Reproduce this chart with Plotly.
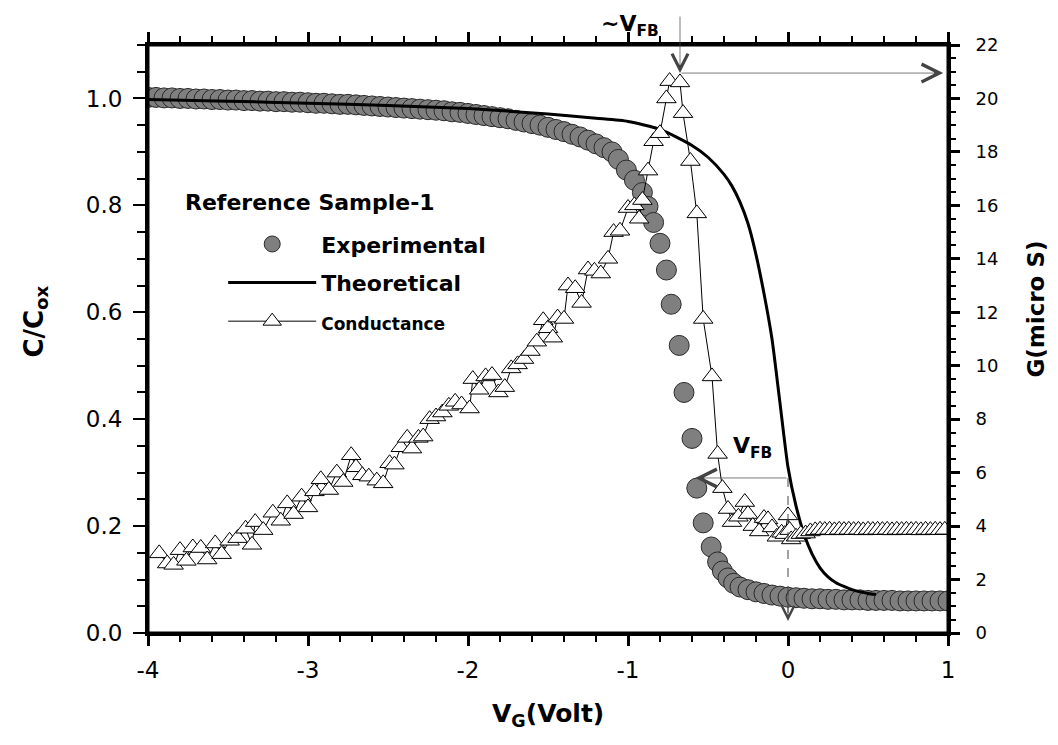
import plotly.graph_objects as go

# ---------------- data ----------------
# Experimental C/Cox vs gate voltage
exp_v = [-4.00, -3.95, -3.90, -3.85, -3.80, -3.75, -3.70, -3.65, -3.60, -3.55,
         -3.50, -3.45, -3.40, -3.35, -3.30, -3.25, -3.20, -3.15, -3.10, -3.05,
         -3.00, -2.95, -2.90, -2.85, -2.80, -2.75, -2.70, -2.65, -2.60, -2.55,
         -2.50, -2.45, -2.40, -2.35, -2.30, -2.25, -2.20, -2.15, -2.10, -2.05,
         -2.00, -1.95, -1.90, -1.85, -1.80, -1.75, -1.70, -1.65, -1.60, -1.55,
         -1.50, -1.45, -1.40, -1.35, -1.30, -1.25, -1.20, -1.15,
         -1.10, -1.06, -1.01, -0.96, -0.91, -0.875, -0.84, -0.80, -0.76, -0.73,
         -0.68, -0.65, -0.60, -0.57, -0.53, -0.48, -0.44, -0.41, -0.375, -0.34,
         -0.30, -0.25, -0.20, -0.15, -0.10, -0.05, 0.00, 0.05, 0.10, 0.15,
         0.20, 0.25, 0.30, 0.35, 0.40, 0.45, 0.50, 0.55, 0.60, 0.65,
         0.70, 0.75, 0.80, 0.85, 0.90, 0.95, 1.00]
exp_c = [1.002, 1.002, 1.001, 1.001, 1.000, 1.000, 0.999, 0.999, 0.998, 0.998,
         0.997, 0.997, 0.996, 0.996, 0.995, 0.995, 0.994, 0.994, 0.993, 0.993,
         0.992, 0.991, 0.991, 0.990, 0.989, 0.989, 0.988, 0.987, 0.986, 0.985,
         0.984, 0.983, 0.982, 0.981, 0.980, 0.979, 0.978, 0.977, 0.975, 0.974,
         0.972, 0.970, 0.968, 0.966, 0.964, 0.962, 0.959, 0.956, 0.953, 0.950,
         0.946, 0.942, 0.938, 0.933, 0.928, 0.922, 0.915, 0.908,
         0.900, 0.886, 0.866, 0.847, 0.824, 0.798, 0.768, 0.729, 0.679, 0.615,
         0.538, 0.450, 0.364, 0.271, 0.206, 0.161, 0.133, 0.116, 0.103, 0.093,
         0.086, 0.081, 0.077, 0.074, 0.071, 0.069, 0.067, 0.066, 0.065, 0.064,
         0.064, 0.063, 0.063, 0.062, 0.062, 0.062, 0.061, 0.061, 0.061, 0.061,
         0.060, 0.060, 0.060, 0.060, 0.060, 0.060, 0.060]

# Theoretical C/Cox curve
theo_v = [-4.0, -3.5, -3.0, -2.5, -2.0, -1.5, -1.2, -1.0, -0.8, -0.6,
          -0.5, -0.4, -0.35, -0.3, -0.25, -0.2, -0.15, -0.1, -0.05, 0.0,
          0.05, 0.1, 0.15, 0.2, 0.25, 0.3, 0.35, 0.4, 0.45, 0.5, 0.55]
theo_c = [0.998, 0.995, 0.991, 0.987, 0.981, 0.971, 0.963, 0.957, 0.942, 0.912,
          0.890, 0.858, 0.836, 0.806, 0.766, 0.708, 0.635, 0.550, 0.430, 0.310,
          0.238, 0.185, 0.148, 0.122, 0.105, 0.094, 0.087, 0.081, 0.077, 0.074, 0.072]

# Conductance G (micro S) vs gate voltage
cond_v = [-3.93, -3.88, -3.84, -3.80, -3.76, -3.72, -3.67, -3.63, -3.58, -3.54,
          -3.49, -3.44, -3.39, -3.35, -3.33, -3.28, -3.22, -3.17, -3.13, -3.09,
          -3.04, -3.00, -2.96, -2.92, -2.87, -2.82, -2.78, -2.73, -2.70, -2.66,
          -2.62, -2.57, -2.53, -2.49, -2.46, -2.42, -2.38, -2.35, -2.31, -2.28,
          -2.24, -2.20, -2.16, -2.12, -2.08, -2.04, -1.99, -1.97, -1.93, -1.89,
          -1.85, -1.81, -1.77, -1.73, -1.69, -1.65, -1.61, -1.57, -1.53, -1.50,
          -1.47, -1.44, -1.40, -1.375, -1.33, -1.29, -1.25, -1.21, -1.17, -1.125,
          -1.09, -1.05, -1.00, -0.96, -0.93, -0.91, -0.875, -0.84, -0.80, -0.76,
          -0.74, -0.675, -0.656, -0.61, -0.57, -0.53, -0.475, -0.44, -0.41, -0.375,
          -0.35, -0.31, -0.27, -0.25, -0.22, -0.18, -0.15, -0.125, -0.10, -0.07,
          -0.04, -0.02, 0.00, 0.01, 0.02, 0.05, 0.08,
          0.11, 0.14, 0.17, 0.20, 0.23, 0.26, 0.29, 0.32, 0.35, 0.38,
          0.41, 0.44, 0.47, 0.50, 0.53, 0.56, 0.59, 0.62, 0.65, 0.68,
          0.71, 0.74, 0.77, 0.80, 0.83, 0.86, 0.89, 0.92, 0.95, 0.98]
cond_g = [2.98, 2.60, 2.55, 3.10, 2.70, 3.20, 3.18, 2.75, 3.35, 2.95,
          3.45, 3.55, 3.90, 3.30, 4.15, 3.85, 4.50, 4.20, 4.85, 4.45,
          5.10, 4.70, 5.30, 5.75, 5.35, 6.00, 5.65, 6.65, 6.20, 5.90,
          5.85, 5.70, 5.60, 6.35, 6.30, 6.95, 7.30, 6.90, 7.30, 7.35,
          8.00, 8.10, 8.25, 8.50, 8.65, 8.55, 8.40, 9.50, 9.10, 9.60,
          9.65, 9.00, 9.20, 9.90, 10.05, 10.25, 10.55, 10.90, 11.70, 11.40,
          11.05, 11.80, 11.75, 13.00, 12.90, 12.35, 13.60, 13.55, 13.45, 14.00,
          15.00, 15.05, 15.90, 16.00, 15.50, 16.20, 17.30, 18.40, 18.70, 20.00,
          20.65, 20.60, 19.45, 17.66, 15.70, 11.75, 9.60, 6.70, 5.42, 4.64,
          4.15, 4.35, 4.90, 4.45, 4.00, 3.80, 4.30, 4.25, 3.95, 3.60,
          3.75, 3.70, 4.40, 3.85, 3.50, 3.60, 3.70,
          3.72, 3.80, 3.84, 3.86, 3.85, 3.86, 3.84, 3.86, 3.85, 3.86,
          3.85, 3.86, 3.84, 3.86, 3.85, 3.86, 3.85, 3.86, 3.84, 3.86,
          3.85, 3.86, 3.85, 3.86, 3.84, 3.86, 3.85, 3.86, 3.85, 3.86]

# annotation anchors (data units)
vfb_peak_v = -0.675
vfb_peak_g = 20.95
vfb_v = 0.0
vfb_g = 5.8

FONT = "DejaVu Sans, Liberation Sans, Arial, sans-serif"

fig = go.Figure()

fig.add_trace(go.Scatter(
    x=exp_v, y=exp_c, mode="markers", name="Experimental",
    legendgroup="a",
    marker=dict(symbol="circle", size=20, color="#7f7f7f",
                line=dict(color="#2a2a2a", width=1)),
    xaxis="x", yaxis="y"))

fig.add_trace(go.Scatter(
    x=theo_v, y=theo_c, mode="lines", name="Theoretical",
    legendgroup="b",
    line=dict(color="black", width=3, shape="spline", smoothing=0.6),
    xaxis="x", yaxis="y"))

fig.add_trace(go.Scatter(
    x=cond_v, y=cond_g, mode="lines+markers",
    name='<span style="font-size:17px">Conductance</span>',
    legendgroup="c",
    line=dict(color="black", width=1),
    marker=dict(symbol="triangle-up", size=17, color="white",
                line=dict(color="black", width=1)),
    xaxis="x", yaxis="y2"))

fig.update_layout(
    template="none",
    width=1058, height=745,
    margin=dict(l=148, r=110, t=45, b=112),
    paper_bgcolor="white", plot_bgcolor="white",
    font=dict(family=FONT, color="black"),
    showlegend=True,
    legend=dict(x=0.094, y=0.697, xanchor="left", yanchor="top",
                bgcolor="rgba(0,0,0,0)", borderwidth=0,
                font=dict(family=FONT, size=22, weight="bold", color="black"),
                itemwidth=88, tracegroupgap=7, traceorder="grouped"),
    xaxis=dict(
        showgrid=False, zeroline=False, showline=True, linecolor="black", linewidth=3,
        range=[-4, 1], tickmode="array",
        tickvals=[-4, -3, -2, -1, 0, 1], ticktext=["-4", "-3", "-2", "-1", "0", "1"],
        ticks="outside", ticklen=10, tickwidth=3, tickcolor="black", mirror="ticks",
        ticklabelstandoff=4,
        minor=dict(dtick=0.2, ticks="outside", ticklen=6, tickwidth=2, tickcolor="black"),
        tickfont=dict(size=23)),
    yaxis=dict(
        showgrid=False, zeroline=False, showline=True, linecolor="black", linewidth=3,
        range=[0, 1.1], tickmode="array",
        tickvals=[0, 0.2, 0.4, 0.6, 0.8, 1.0],
        ticktext=["0.0", "0.2", "0.4", "0.6", "0.8", "1.0"],
        ticks="outside", ticklen=12, tickwidth=2, tickcolor="black", ticklabelstandoff=6,
        minor=dict(dtick=0.05, ticks="outside", ticklen=8, tickwidth=2, tickcolor="black"),
        tickfont=dict(size=23)),
    yaxis2=dict(
        showgrid=False, zeroline=False, showline=True, linecolor="black", linewidth=3,
        range=[0, 22], overlaying="y", side="right", anchor="x",
        tickmode="array", tickvals=list(range(0, 23, 2)),
        ticks="outside", ticklen=9, tickwidth=3, tickcolor="black", ticklabelstandoff=12,
        minor=dict(dtick=0.5, ticks="outside", ticklen=5, tickwidth=2, tickcolor="black"),
        tickfont=dict(size=18)),
)

arrow_col = "#444444"
annotations = [
    # ~VFB vertical arrow from above the frame down to the conductance peak
    dict(x=vfb_peak_v, y=vfb_peak_g, xref="x", yref="y2", text="",
         showarrow=True, ax=0, ay=-58, axref="pixel", ayref="pixel",
         arrowhead=5, arrowsize=4.5, arrowwidth=0.7, arrowcolor=arrow_col),
    # horizontal arrow from peak to the right (G) axis
    dict(x=0.97, y=vfb_peak_g, xref="x", yref="y2", text="",
         showarrow=True, ax=vfb_peak_v, ay=vfb_peak_g, axref="x", ayref="y2",
         arrowhead=5, arrowsize=5, arrowwidth=0.7, arrowcolor=arrow_col),
    # VFB horizontal arrow pointing left
    dict(x=-0.58, y=vfb_g, xref="x", yref="y2", text="",
         showarrow=True, ax=vfb_v, ay=vfb_g, axref="x", ayref="y2",
         arrowhead=5, arrowsize=5, arrowwidth=0.7, arrowcolor=arrow_col),
    # VFB vertical arrow head at bottom
    dict(x=vfb_v, y=0.45, xref="x", yref="y2", text="",
         showarrow=True, ax=vfb_v, ay=1.6, axref="x", ayref="y2",
         arrowhead=5, arrowsize=3.5, arrowwidth=0.7, arrowcolor=arrow_col),
    dict(x=-0.99, y=1.062, xref="x", yref="paper", showarrow=False,
         text="<b>~V<sub>FB</sub></b>", font=dict(family=FONT, size=22, color="black")),
    dict(x=-0.225, y=6.95, xref="x", yref="y2", showarrow=False,
         text="<b>V<sub>FB</sub></b>", font=dict(family=FONT, size=22, color="black")),
    dict(x=0.044, y=0.757, xref="paper", yref="paper", xanchor="left", showarrow=False,
         text="<b>Reference Sample-1</b>", font=dict(family=FONT, size=22, color="black")),
    # axis titles
    dict(x=0.5, y=-0.139, xref="paper", yref="paper", showarrow=False,
         xanchor="center", yanchor="middle",
         text="<b>V<sub>G</sub>(Volt)</b>", font=dict(family=FONT, size=25, color="black")),
    dict(x=-0.141, y=0.53, xref="paper", yref="paper", showarrow=False, textangle=-90,
         xanchor="center", yanchor="middle",
         text="<b>C/C<sub>ox</sub></b>", font=dict(family=FONT, size=26, color="black")),
    dict(x=1.11, y=0.55, xref="paper", yref="paper", showarrow=False, textangle=-90,
         xanchor="center", yanchor="middle",
         text="<b>G(micro S)</b>", font=dict(family=FONT, size=23, color="black")),
]
fig.update_layout(annotations=annotations)

# plot frame
fig.add_shape(type="rect", xref="paper", yref="paper", x0=0, x1=1, y0=0, y1=1,
              line=dict(color="black", width=3), layer="above")
fig.add_shape(type="line", xref="x", yref="y2", x0=vfb_v, x1=vfb_v, y0=vfb_g, y1=0.5,
              line=dict(color=arrow_col, width=1, dash="dash"))

fig.write_html("out.html")
